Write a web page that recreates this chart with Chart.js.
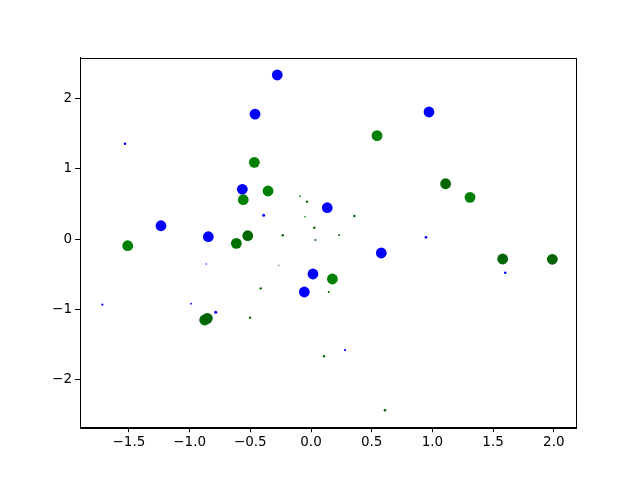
<!DOCTYPE html>
<html>
<head>
<meta charset="utf-8">
<script src="https://cdn.jsdelivr.net/npm/chart.js@4.4.1/dist/chart.umd.min.js"></script>
<style>
html,body{margin:0;padding:0;background:#fff;}
#wrap{width:640px;height:480px;}
</style>
</head>
<body>
<div id="wrap"><canvas id="c" width="640" height="480"></canvas></div>
<script>
// Blue series
const blueX = [-0.278, -0.461, -0.566, 0.134, -1.236, -0.846, 0.972, 0.016, -0.055, 0.579,
               -1.532, -0.390, 0.947, -1.719, -0.988, -0.785, 1.600, 0.280, -0.862];
const blueY = [2.336, 1.780, 0.711, 0.449, 0.193, 0.037, 1.810, -0.493, -0.749, -0.195,
               1.359, 0.341, 0.028, -0.929, -0.915, -1.038, -0.475, -1.574, -0.351];
const blueSize = [5.4, 5.4, 5.4, 5.4, 5.4, 5.4, 5.4, 5.4, 5.4, 5.4,
                  1.3, 1.5, 1.3, 1.1, 0.9, 1.5, 1.3, 1.1, 0.7];

// Green series
const greenX = [-0.467, -0.354, -0.558, -0.521, -0.615, -1.510, 0.544, 1.109, 1.310, 1.579, 1.988, 0.176, -0.876, -0.854,
                -0.091, -0.033, -0.049, 0.027, -0.233, 0.036, 0.357, 0.231, -0.266, -0.414, 0.146, -0.502, 0.107, 0.610];
const greenY = [1.094, 0.687, 0.563, 0.051, -0.057, -0.091, 1.473, 0.790, 0.597, -0.280, -0.284, -0.564, -1.147, -1.124,
                0.611, 0.535, 0.321, 0.165, 0.057, -0.010, 0.331, 0.061, -0.370, -0.697, -0.749, -1.114, -1.663, -2.431];
const greenSize = [5.4, 5.4, 5.4, 5.4, 5.4, 5.4, 5.4, 5.4, 5.4, 5.4, 5.4, 5.4, 5.4, 5.4,
                   1.0, 1.2, 0.9, 1.2, 1.2, 1.0, 1.2, 1.0, 0.8, 1.2, 1.0, 1.2, 1.2, 1.3];
const greenShade = ['#008000','#008000','#008000','#006600','#007000','#008000','#008000','#006400','#008000','#006400','#006400','#008000','#007000','#006400',
                    '#2e8b2e','#006400','#3a9a3a','#006400','#006400','#006400','#006400','#006400','#4ea64e','#006400','#006400','#006400','#006400','#006400'];

const xTicks = [-1.5, -1.0, -0.5, 0.0, 0.5, 1.0, 1.5, 2.0];
const yTicks = [-2, -1, 0, 1, 2];

function pts(xs, ys) { return xs.map((x, i) => ({x: x, y: ys[i]})); }
function fmt(v, d) { const s = v.toFixed(d); return v < 0 ? '\u2212' + s.slice(1) : s; }

const frame = {
  id: 'frame',
  afterDatasetsDraw(chart) {
    const a = chart.chartArea, ctx = chart.ctx;
    ctx.save();
    ctx.strokeStyle = '#000';
    ctx.lineWidth = 1;
    ctx.strokeRect(Math.round(a.left) + 0.5, Math.round(a.top) + 0.5, Math.round(a.right - a.left), Math.round(a.bottom - a.top));
    ctx.restore();
  }
};

const font = {family: 'DejaVu Sans', size: 13.5};

new Chart(document.getElementById('c'), {
  type: 'scatter',
  data: {
    datasets: [
      {label: 'green', data: pts(greenX, greenY), pointRadius: greenSize, pointHoverRadius: greenSize,
       backgroundColor: greenShade, borderColor: greenShade, borderWidth: 0},
      {label: 'blue', data: pts(blueX, blueY), pointRadius: blueSize, pointHoverRadius: blueSize,
       backgroundColor: '#0000ff', borderColor: '#0000ff', borderWidth: 0}
    ]
  },
  options: {
    responsive: false,
    animation: false,
    events: [],
    layout: {padding: {left: 0, top: 57.6, right: 64, bottom: 0}},
    plugins: {legend: {display: false}, tooltip: {enabled: false}},
    scales: {
      x: {
        type: 'linear', min: -1.903, max: 2.183,
        afterBuildTicks: s => { s.ticks = xTicks.map(v => ({value: v})); },
        afterFit: s => { s.height = 52.8; },
        ticks: {callback: v => fmt(v, 1), color: '#000', font: font, padding: 2, maxRotation: 0, autoSkip: false},
        grid: {display: true, drawOnChartArea: false, drawTicks: true, tickLength: 5, tickColor: '#000', tickWidth: 1},
        border: {display: true, color: '#000', width: 1}
      },
      y: {
        type: 'linear', min: -2.671, max: 2.583,
        afterBuildTicks: s => { s.ticks = yTicks.map(v => ({value: v})); },
        afterFit: s => { s.width = 80; },
        ticks: {callback: v => fmt(v, 0), color: '#000', font: font, padding: 3, autoSkip: false},
        grid: {display: true, drawOnChartArea: false, drawTicks: true, tickLength: 5, tickColor: '#000', tickWidth: 1},
        border: {display: true, color: '#000', width: 1}
      }
    }
  },
  plugins: [frame]
});
</script>
</body>
</html>
